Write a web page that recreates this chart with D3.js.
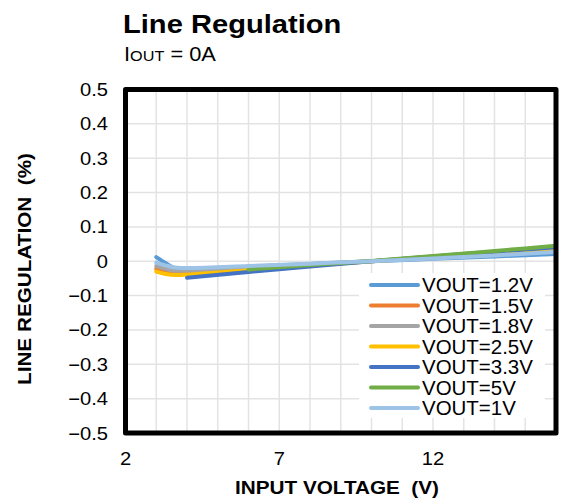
<!DOCTYPE html>
<html>
<head>
<meta charset="utf-8">
<script src="https://cdn.jsdelivr.net/npm/d3@7"></script>
<style>
  body { margin: 0; background: #fff; }
  svg { display: block; font-family: "Liberation Sans", Arial, sans-serif; }
</style>
</head>
<body>
<div id="chart"></div>
<script>
// input voltage (V) sample points
const vinLow = [3, 3.3, 3.6, 4, 6, 8, 10, 12, 14, 16];
const vin33 = [4, 6, 8, 10, 12, 14, 16];
const vin5 = [6, 8, 10, 12, 14, 16];

// line regulation (%) per output voltage
const reg12 = [0.012, -0.005, -0.02, -0.024, -0.016, -0.008, 0, 0.007, 0.014, 0.021];
const reg15 = [-0.022, -0.03, -0.034, -0.033, -0.022, -0.011, 0, 0.011, 0.022, 0.033];
const reg18 = [-0.014, -0.022, -0.028, -0.028, -0.019, -0.009, 0, 0.01, 0.019, 0.029];
const reg25 = [-0.03, -0.037, -0.04, -0.039, -0.026, -0.013, 0, 0.013, 0.025, 0.037];
const reg33 = [-0.048, -0.031, -0.015, 0, 0.014, 0.028, 0.041];
const reg5 = [-0.024, -0.011, 0.001, 0.015, 0.03, 0.045];
const reg1 = [-0.004, -0.012, -0.018, -0.02, -0.014, -0.007, 0, 0.008, 0.017, 0.027];

const seriesNames = ['VOUT=1.2V', 'VOUT=1.5V', 'VOUT=1.8V', 'VOUT=2.5V', 'VOUT=3.3V', 'VOUT=5V', 'VOUT=1V'];
const seriesX = [vinLow, vinLow, vinLow, vinLow, vin33, vin5, vinLow];
const seriesY = [reg12, reg15, reg18, reg25, reg33, reg5, reg1];
const colors = ['#5B9BD5', '#ED7D31', '#A5A5A5', '#FFC000', '#4472C4', '#70AD47', '#9DC3E6'];

const xTicks = [2, 7, 12];
const yTicks = [0.5, 0.4, 0.3, 0.2, 0.1, 0, -0.1, -0.2, -0.3, -0.4, -0.5];

const width = 569, height = 499;
const plot = { left: 125.5, right: 556, top: 89.5, bottom: 433 };
const sx = 1.12; // text in the reference is a bit wide

const svg = d3.select('#chart').append('svg')
    .attr('width', width)
    .attr('height', height);

const xScale = d3.scaleLinear().domain([2, 16]).range([plot.left, plot.right]);
const yScale = d3.scaleLinear().domain([-0.5, 0.5]).range([plot.bottom, plot.top]);

const place = (x, y, s = sx) => `translate(${x},${y}) scale(${s},1)`;

// gridlines
svg.append('g')
    .selectAll('line')
    .data(d3.range(3, 16))
    .join('line')
    .attr('x1', xScale).attr('x2', xScale)
    .attr('y1', plot.top).attr('y2', plot.bottom)
    .attr('stroke', '#e3e3e3')
    .attr('stroke-width', 1.5);

svg.append('g')
    .selectAll('line')
    .data(yTicks.slice(1, -1))
    .join('line')
    .attr('x1', plot.left).attr('x2', plot.right)
    .attr('y1', yScale).attr('y2', yScale)
    .attr('stroke', '#e3e3e3')
    .attr('stroke-width', 1.5);

// series
svg.append('clipPath').attr('id', 'clip')
    .append('rect')
    .attr('x', plot.left).attr('y', plot.top)
    .attr('width', plot.right - plot.left)
    .attr('height', plot.bottom - plot.top);

const line = d3.line()
    .x((d) => xScale(d[0]))
    .y((d) => yScale(d[1]))
    .curve(d3.curveMonotoneX);

svg.append('g')
    .attr('clip-path', 'url(#clip)')
    .selectAll('path')
    .data(seriesNames)
    .join('path')
    .attr('d', (d, i) => line(seriesX[i].map((x, j) => [x, seriesY[i][j]])))
    .attr('fill', 'none')
    .attr('stroke', (d, i) => colors[i])
    .attr('stroke-width', 4)
    .attr('stroke-linecap', 'round')
    .attr('stroke-linejoin', 'round');

// legend
const legend = svg.append('g');
legend.append('rect')
    .attr('x', 359).attr('y', 273)
    .attr('width', 186).attr('height', 145)
    .attr('fill', '#fff');

const rows = legend.selectAll('g')
    .data(seriesNames)
    .join('g')
    .attr('transform', (d, i) => `translate(371,${285 + i * 20.5})`);

rows.append('line')
    .attr('x1', 0).attr('x2', 47)
    .attr('stroke', (d, i) => colors[i])
    .attr('stroke-width', 4)
    .attr('stroke-linecap', 'round');

rows.append('text')
    .attr('transform', place(51, 7, 1.05))
    .attr('font-size', 19.5)
    .attr('fill', '#000')
    .text((d) => d);

// frame
svg.append('rect')
    .attr('x', plot.left).attr('y', plot.top)
    .attr('width', plot.right - plot.left)
    .attr('height', plot.bottom - plot.top)
    .attr('fill', 'none')
    .attr('stroke', '#000')
    .attr('stroke-width', 5)
    .attr('stroke-linejoin', 'round');

// tick labels
svg.append('g')
    .selectAll('text')
    .data(yTicks)
    .join('text')
    .attr('transform', (d) => place(108, yScale(d) + 6.5))
    .attr('text-anchor', 'end')
    .attr('font-size', 18)
    .text((d) => d3.format('')(d));

svg.append('g')
    .selectAll('text')
    .data(xTicks)
    .join('text')
    .attr('transform', (d) => place(xScale(d), 465))
    .attr('text-anchor', 'middle')
    .attr('font-size', 18)
    .text((d) => d);

// titles
svg.append('text')
    .attr('transform', place(123, 33))
    .attr('font-size', 26)
    .attr('font-weight', 'bold')
    .text('Line Regulation');

const sub = svg.append('text')
    .attr('transform', place(124, 61))
    .attr('font-size', 19.5);
sub.append('tspan').text('I');
sub.append('tspan').attr('font-size', 14.5).text('OUT');
sub.append('tspan').text(' = 0A');

svg.append('text')
    .attr('transform', place(337, 494))
    .attr('text-anchor', 'middle')
    .attr('font-size', 18.5)
    .attr('font-weight', 'bold')
    .attr('xml:space', 'preserve')
    .text('INPUT VOLTAGE  (V)');

svg.append('text')
    .attr('transform', 'translate(31,269) rotate(-90) scale(' + sx + ',1)')
    .attr('text-anchor', 'middle')
    .attr('font-size', 18.5)
    .attr('font-weight', 'bold')
    .attr('xml:space', 'preserve')
    .text('LINE REGULATION  (%)');
</script>
</body>
</html>
